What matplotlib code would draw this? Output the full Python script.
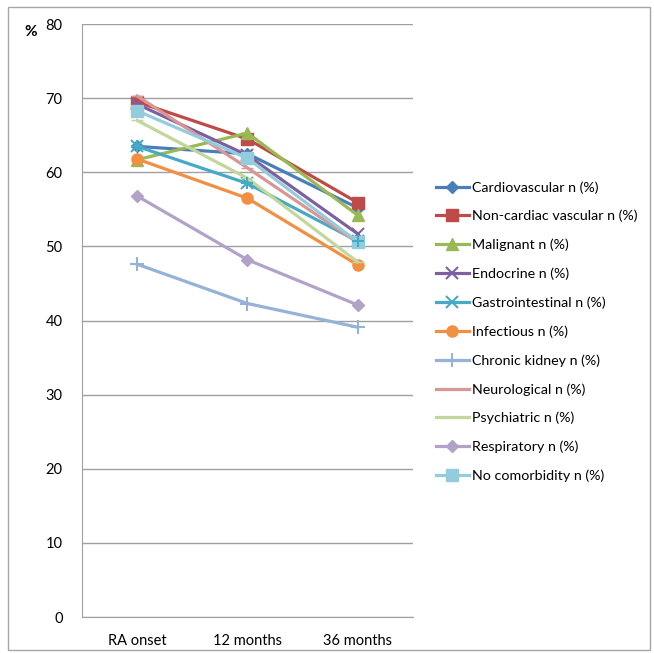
import matplotlib.pyplot as plt
from matplotlib.patches import Rectangle

plt.rcParams['font.family'] = ['Lato', 'DejaVu Sans']

timepoints = ["RA onset", "12 months", "36 months"]
series_names = ["Cardiovascular n (%)", "Non-cardiac vascular n (%)", "Malignant n (%)",
                "Endocrine n (%)", "Gastrointestinal n (%)", "Infectious n (%)",
                "Chronic kidney n (%)", "Neurological n (%)", "Psychiatric n (%)",
                "Respiratory n (%)", "No comorbidity n (%)"]
cardiovascular = [63.5, 62.5, 55.2]
non_cardiac_vascular = [69.5, 64.5, 55.9]
malignant = [61.7, 65.3, 54.2]
endocrine = [69.2, 62.3, 51.7]
gastrointestinal = [63.5, 58.5, 50.7]
infectious = [61.8, 56.5, 47.5]
chronic_kidney = [47.6, 42.3, 39.1]
neurological = [70.3, 60.6, 50.5]
psychiatric = [67.0, 59.2, 47.9]
respiratory = [56.8, 48.2, 42.1]
no_comorbidity = [68.3, 61.9, 50.6]

values = [cardiovascular, non_cardiac_vascular, malignant, endocrine, gastrointestinal,
          infectious, chronic_kidney, neurological, psychiatric, respiratory, no_comorbidity]
colors = ["#4A7EBB", "#BE4B48", "#98B954", "#7D60A0", "#46AAC5", "#F28F43",
          "#95B3D7", "#D99694", "#C3D69B", "#B3A2C7", "#93CDDD"]
markers = ["D", "s", "^", "x", "x", "o", "+", "_", "_", "D", "s"]
msizes = [6, 8, 8, 8, 8, 8, 10, 8, 8, 6, 8]

fig = plt.figure(figsize=(6.54, 6.53), dpi=100)
fig.patches.append(Rectangle((0.012, 0.005), 0.982, 0.985, transform=fig.transFigure,
                             fill=False, edgecolor="#A6A6A6", linewidth=1))
ax = fig.add_axes([0.1254, 0.0551, 0.506, 0.908])

x = list(range(len(timepoints)))
for name, vals, c, m, ms in zip(series_names, values, colors, markers, msizes):
    ax.plot(x, vals, color=c, marker=m, markersize=ms, linewidth=2.3,
            markeredgewidth=1.5 if m in "x+" else 1, label=name)
# second glyph for gastrointestinal star marker
ax.plot(x, gastrointestinal, color=colors[4], marker="+", markersize=9,
        markeredgewidth=1.5, linestyle="none")

ax.set_xlim(-0.5, 2.5)
ax.set_ylim(0, 80)
ax.set_yticks(range(0, 81, 10))
ax.set_xticks(x)
ax.set_xticklabels(timepoints)
ax.grid(axis="y", color="#A0A0A0", linewidth=1)
ax.set_axisbelow(True)
for s in ["top", "right"]:
    ax.spines[s].set_visible(False)
for s in ["left", "bottom"]:
    ax.spines[s].set_color("#A0A0A0")
ax.tick_params(length=0, labelsize=10.5, pad=12)
ax.tick_params(axis="y", pad=14)

fig.text(0.038, 0.945, "%", fontsize=11, fontweight="bold")

ax.legend(loc="upper left", bbox_to_anchor=(1.03, 0.757), frameon=False,
          fontsize=10.3, labelspacing=1.14, handlelength=2.3, handletextpad=0.2)

fig.savefig("out.png", dpi=100)
